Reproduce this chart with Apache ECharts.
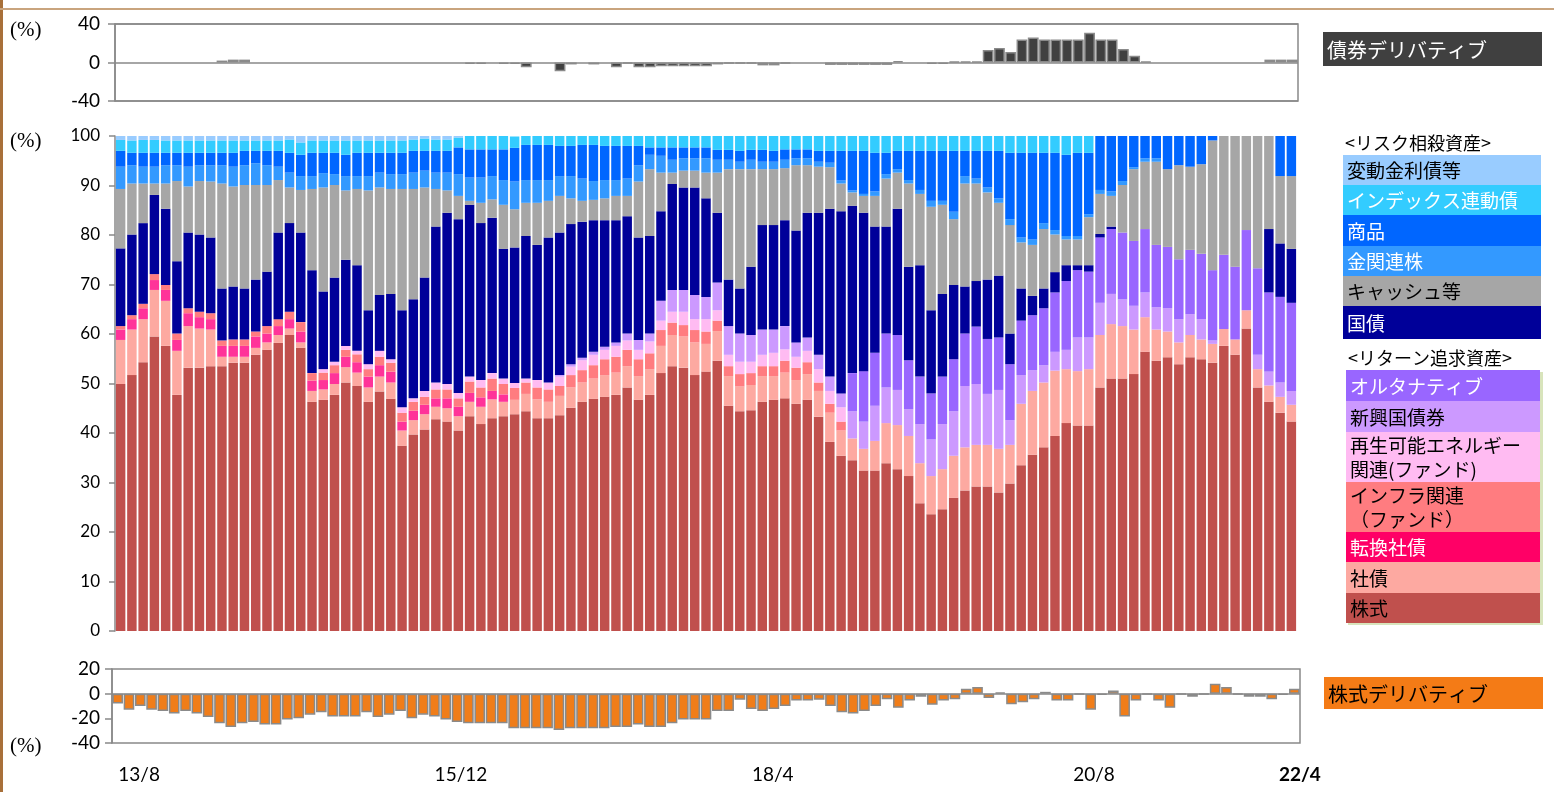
<!DOCTYPE html>
<html>
<head>
<meta charset="utf-8">
<script src="https://cdn.jsdelivr.net/npm/echarts@6/dist/echarts.min.js"></script>
<style>
  html, body { margin: 0; padding: 0; background: #fff; }
  #chart { width: 1554px; height: 792px; }
</style>
</head>
<body>
<div id="chart"></div>
<script>
// months 2013/8 .. 2022/4
const categories = [];
for (let i = 0; i < 105; i++) {
  categories.push((2013 + Math.floor((7 + i) / 12)) + '/' + ((7 + i) % 12 + 1));
}
const tickIndex = [0, 28, 56, 84, 104];
const tickLabels = ['13/8', '15/12', '18/4', '20/8', '22/4'];

// stacked allocation (%), bottom to top
const equity = [49.9,51.7,54.3,59.5,57.6,47.7,53.2,53.2,53.5,53.5, 54.2,54.2,55.8,56.8,58.2,59.8,57.2,46.3,46.7,47.7,
  50.2,49.5,46.3,48.4,46.9,37.4,39.7,40.7,42.8,42.3, 40.5,43.4,41.8,43.0,43.4,43.8,44.4,43.0,43.0,43.6,
  45.1,46.3,46.9,47.3,47.7,49.2,46.7,47.7,52.1,53.5, 53.2,51.7,52.4,54.6,45.5,44.4,44.6,46.3,46.7,47.0,
  45.9,46.7,43.3,38.2,35.4,34.5,32.4,32.4,33.9,32.7, 31.3,25.8,23.6,24.6,26.9,28.4,29.2,29.2,28.0,29.8,
  33.5,35.6,37.1,39.4,42.0,41.5,41.5,49.2,51.0,51.0, 51.9,56.4,54.6,55.3,53.9,55.3,54.9,54.2,57.6,55.8,
  61.1,49.2,46.3,44.1,42.3];
const corpBond = [8.9,9.2,8.7,9.4,9.1,8.9,8.4,7.9,7.4,1.9, 1.2,1.2,1.4,1.5,1.6,1.3,1.1,2.2,2.1,2.2,
  3.1,2.7,2.9,3.0,3.3,3.1,2.9,3.1,2.5,2.7, 2.9,2.9,3.5,3.8,2.9,2.9,3.5,3.8,3.3,3.9,
  4.1,3.9,4.1,4.4,4.5,4.3,4.8,5.2,5.5,6.3, 6.3,6.6,5.6,6.0,6.0,5.0,5.1,5.2,4.8,5.2,
  4.8,5.2,5.2,5.9,5.1,4.4,4.4,6.0,8.1,8.9, 8.1,8.1,7.7,8.1,8.5,8.7,8.4,8.4,8.8,7.8,
  12.4,12.9,13.1,13.2,10.9,11.0,11.4,10.6,11.0,10.6, 9.0,7.0,6.3,5.2,4.4,4.5,4.0,3.8,3.4,3.1,
  3.7,3.7,3.3,3.2,3.4];
const convBond = [2.1,2.1,2.2,2.0,2.2,2.2,2.6,2.3,2.1,2.2, 2.2,2.2,2.3,1.8,1.8,1.9,2.2,2.1,1.9,2.2,
  2.1,2.1,2.2,2.3,2.2,1.8,1.9,1.9,1.7,2.0, 1.9,1.8,1.9,1.7,1.5,0,0,0,0,0,
  0,0,0,0,0,0,0,0,0,0, 0,0,0,0,0,0,0,0,0,0, 0,0,0,0,0,0,0,0,0,0, 0,0,0,0,0,0,0,0,0,0,
  0,0,0,0,0,0,0,0,0,0, 0,0,0,0,0,0,0,0,0,0, 0,0,0,0,0];
const infra = [0.7,0.8,0.9,1.2,1.0,1.3,1.0,1.1,1.2,1.1, 1.3,1.3,1.0,1.5,1.4,1.5,1.9,1.5,1.5,1.6,
  1.4,1.6,1.5,1.7,1.8,1.8,1.8,1.6,1.8,1.8, 1.7,2.3,2.0,2.5,2.1,2.4,2.3,2.4,2.5,2.0,
  2.5,2.5,2.7,3.2,3.2,3.3,3.4,3.2,3.2,2.5, 2.3,2.5,2.5,2.1,2.0,2.5,2.4,2.0,2.0,2.4,
  2.5,2.4,1.7,1.8,1.8,0,0,0,0,0, 0,0,0,0,0,0,0,0,0,0,
  0,0,0,0,0,0,0,0,0,0, 0,0,0,0,0,0,0,0,0,0, 0,0,0,0,0];
const renewable = [0,0,0,0,0,0,0,0,0,0, 0,0,0,0,0,0,0,0,0.7,0.7,
  0.8,0.7,1.0,1.2,0.7,1.1,0.7,1.2,1.4,1.1, 1.1,1.0,1.5,1.1,1.1,1.0,0.8,1.5,1.4,1.9,
  1.7,2.0,2.1,1.9,2.2,1.9,1.9,2.4,1.9,2.2, 2.7,2.2,2.5,2.1,2.3,2.5,2.3,2.3,2.7,2.3,
  2.2,2.3,2.7,2.6,2.9,0,0,0,0,0, 0,0,0,0,0,0,0,0,0,0,
  0,0,0,0,0,0,0,0,0,0, 0,0,0,0,0,0,0,0,0,0, 0,0,0,0,0];
const emBond = [0,0,0,0,0,0,0,0,0,0, 0,0,0,0,0,0,0,0,0,0, 0,0,0,0,0,0,0,0,0,0, 0,0,0,0,0,0,0,0,0,0.3,
  0.5,0.5,0.6,0.6,0.7,1.4,2.0,1.6,4.0,4.4, 4.4,4.9,4.5,5.6,5.8,5.7,5.4,5.1,4.7,4.7,
  2.9,2.7,2.9,2.9,2.8,5.5,5.5,7.1,7.2,7.1, 5.4,7.9,7.4,9.1,9.0,12.4,12.3,10.3,11.9,5.0,
  5.8,4.2,3.5,3.8,3.9,6.8,6.4,6.5,6.1,5.4, 4.8,5.0,4.5,4.7,4.7,4.2,4.1,0.7,0,0,
  0,2.9,2.8,2.9,2.8];
const alternative = [0,0,0,0,0,0,0,0,0,0, 0,0,0,0,0,0,0,0,0,0, 0,0,0,0,0,0,0,0,0,0, 0,0,0,0,0,0,0,0,0,0,
  0,0,0,0,0,0,0,0,0,0, 0,0,0,0,0,0,0,0,0,0, 0,0,0,0,0,7.7,10.2,10.7,10.9,11.1,
  9.9,9.6,9.3,9.6,10.5,10.6,11.6,11.1,10.6,11.3, 11.0,11.1,11.5,12.0,13.9,13.6,13.3,13.2,13.1,13.5,
  13.1,12.8,12.6,12.4,12.1,13.0,13.2,14.2,15.0,14.7, 16.2,17.5,16.0,17.3,17.8];
const govBond = [15.7,16.3,16.3,16.0,15.4,14.6,15.3,15.6,15.3,10.5, 10.7,10.3,10.5,11.0,17.5,17.9,18.1,20.8,15.7,17.0,
  17.4,17.3,10.9,11.3,13.2,19.6,20.0,22.9,31.5,34.6, 35.1,34.7,31.7,31.4,26.2,27.4,28.8,27.3,29.3,28.8,
  28.3,27.5,26.6,25.6,24.7,23.7,20.7,19.7,18.1,21.4, 20.7,21.7,19.9,14.1,9.4,9.1,13.8,21.1,21.1,21.4,
  22.6,25.2,28.7,33.9,36.8,33.8,32.0,25.5,21.6,25.5, 18.9,22.5,16.8,16.7,15.0,9.5,9.2,12.0,12.5,6.2,
  6.5,3.9,4.0,4.1,3.2,1.0,1.3,0.7,0.5,0, 0,0,0,0,0,0,0,0,0,0, 0,0,12.8,10.8,10.9];
const cash = [12.0,10.3,8.0,2.3,5.1,16.2,9.3,10.8,11.3,21.2, 20.2,20.9,19.1,17.5,10.6,7.2,8.6,16.4,21.0,18.7,
  14.0,15.4,24.2,21.7,21.2,24.5,22.3,18.2,7.6,4.5, 4.7,0.8,4.1,3.7,8.9,7.7,6.7,8.5,7.4,7.4,
  5.2,4.2,4.1,4.4,4.9,4.1,11.3,13.5,7.8,2.3, 3.4,3.4,5.2,8.1,22.3,24.1,19.7,11.3,11.3,10.5,
  13.2,9.6,9.3,8.4,5.6,2.7,3.4,6.2,9.7,7.3, 16.8,14.4,20.9,18.0,13.3,20.8,19.7,17.6,14.7,21.9,
  9.3,10.3,12.0,7.6,5.2,5.2,9.7,8.1,6.2,9.6, 14.5,13.6,16.8,15.7,19.0,16.8,18.1,26.2,24.0,26.4,
  19.0,26.7,18.8,13.6,14.7];
const goldStock = [4.5,3.7,3.4,3.4,3.7,3.2,4.0,3.2,3.3,3.7, 4.0,4.0,4.4,4.0,2.7,3.0,2.8,2.6,2.9,2.2,
  2.9,2.6,2.9,3.0,3.0,3.0,3.3,3.4,3.3,3.6, 4.4,4.7,5.1,4.7,5.0,5.6,4.6,4.6,4.2,4.0,
  4.5,4.5,3.8,3.7,3.2,3.5,3.3,2.9,3.4,2.6, 2.5,2.5,2.9,2.6,1.9,1.5,1.9,1.5,1.5,1.7,
  1.4,1.4,1.0,0.9,0.6,0.4,0.4,0.9,0.9,0.7, 0.7,0.8,1.2,0.8,1.5,1.5,1.0,1.0,0.9,1.2,
  1.0,1.1,1.2,0.9,0.7,0.7,0.6,0.8,0.9,0.8, 0.4,0.7,0.7,0,0,0,0,0,0,0, 0,0,0,0,0];
const commodity = [3.2,2.5,2.8,2.8,2.5,2.5,2.8,2.5,2.5,2.5, 2.8,2.9,2.5,2.9,3.2,4.0,4.3,4.7,4.1,4.3,
  4.3,4.7,4.7,4.0,4.3,4.3,4.4,4.0,4.4,4.4, 5.4,5.7,5.7,5.4,6.2,6.8,7.1,7.1,7.1,6.1,
  6.1,6.8,7.3,6.9,6.9,6.6,3.9,1.5,1.7,2.5, 2.2,2.2,2.2,2.0,2.0,2.2,2.0,2.4,2.2,2.1,
  1.8,1.8,2.2,2.4,6.0,8.0,8.7,7.8,4.3,3.7, 5.9,7.9,10.1,10.1,12.3,5.1,5.6,7.4,9.6,13.4,
  17.1,17.5,14.2,15.6,16.4,16.8,12.4,10.9,11.2,9.1, 6.3,4.5,4.5,6.7,5.9,6.2,5.7,0.9,0,0,
  0,0,0,8.1,8.1];
const indexLinked = [2.2,2.5,2.6,2.6,2.5,2.5,2.5,2.5,2.5,2.5, 2.5,2.1,2.1,2.1,2.1,2.7,2.5,2.5,2.5,2.5,
  2.9,2.5,2.5,2.5,2.5,2.5,2.3,2.5,2.3,2.3, 2.0,2.7,2.7,2.7,2.7,2.3,1.8,1.8,1.8,2.0,
  2.0,1.8,1.8,2.0,2.0,2.0,2.0,2.3,2.3,2.3, 2.3,2.3,2.3,2.8,2.8,3.0,2.8,2.8,3.0,2.7,
  2.7,2.7,3.0,3.0,3.0,3.0,3.0,3.4,3.4,3.0, 3.0,3.0,3.0,3.0,3.0,3.0,3.0,3.0,3.0,3.4,
  3.4,3.4,3.4,3.4,3.8,3.4,3.4,0,0,0, 0,0,0,0,0,0,0,0,0,0, 0,0,0,0,0];
const floatingRate = [0.8,0.9,0.8,0.8,0.9,0.9,0.9,0.9,0.9,0.9, 0.9,0.9,0.9,0.9,0.9,0.7,1.3,0.9,0.9,0.9,
  0.9,0.9,0.9,0.9,0.9,0.9,0.7,0.5,0.7,0.7, 0.3,0,0,0,0,0,0,0,0,0,
  0,0,0,0,0,0,0,0,0,0, 0,0,0,0,0,0,0,0,0,0, 0,0,0,0,0,0,0,0,0,0, 0,0,0,0,0,0,0,0,0,0,
  0,0,0,0,0,0,0,0,0,0, 0,0,0,0,0,0,0,0,0,0, 0,0,0,0,0];

// derivatives (%)
const bondDeriv = [null,null,null,null,null,null,null,null,null,2, 3,3,null,null,null,null,null,null,null,null,
  null,null,null,null,null,null,null,null,null,null, null,-1.5,-1.5,null,-1.5,-1.5,-5,null,null,-9,
  -2,null,-2,null,-5,-1,-5,-5,-4,-4, -4,-4,-4,-2,-1,-1,-1,-3,-3,-1,
  null,null,null,-2.5,-2.5,-2.5,-2.5,-2.5,-2.5,1.5, null,null,-1.5,-1.5,1,1,1,13,15,11,
  24,26,24,24,24,24,31,24,24,14, 7,1,null,null,null,null,null,null,null,null,
  null,null,3,3,3];
const equityDeriv = [-8,-13,-10,-13,-14,-16,-14,-16,-19,-24, -27,-24,-23,-25,-25,-21,-20,-17,-15,-18.5,
  -18.5,-18.5,-15,-19,-17,-14,-20,-17,-18.5,-21, -23,-24,-24,-24,-24,-28,-28,-28,-28,-29.5,
  -28,-28,-28,-28,-27,-27,-25,-27,-27,-24, -21,-21,-21,-14,-14,-5,-12.5,-14,-12.5,-10,
  -5.5,-5.5,-5,-10,-15,-16,-14,-10,-4.5,-11.5, -5.5,-2.5,-9,-5.5,-4.5,4,5.5,-3.5,1,-8.5,
  -7,-4.5,1.5,-5.5,-5.5,-0.5,-13,-1,2.5,-18.5, -5.5,-0.5,-5.5,-11.5,-0.5,-2.5,-0.5,8,5.5,-0.5,
  -2.5,-2.5,-4.5,-1,4];

const stackDefs = [
  ['株式', equity, '#C0504D'],
  ['社債', corpBond, '#FDA9A1'],
  ['転換社債', convBond, '#FF3399'],
  ['インフラ関連(ファンド)', infra, '#FF7C80'],
  ['再生可能エネルギー関連(ファンド)', renewable, '#FFBBF2'],
  ['新興国債券', emBond, '#CC99FF'],
  ['オルタナティブ', alternative, '#9966FF'],
  ['国債', govBond, '#000099'],
  ['キャッシュ等', cash, '#A6A6A6'],
  ['金関連株', goldStock, '#3399FF'],
  ['商品', commodity, '#0066FF'],
  ['インデックス連動債', indexLinked, '#33CCFF'],
  ['変動金利債等', floatingRate, '#99CCFF']
];

const riskLegend = [
  ['変動金利債等', '#99CCFF', '#000'],
  ['インデックス連動債', '#33CCFF', '#fff'],
  ['商品', '#0066FF', '#fff'],
  ['金関連株', '#3399FF', '#fff'],
  ['キャッシュ等', '#A6A6A6', '#000'],
  ['国債', '#000099', '#fff']
];
const returnLegend = [
  ['オルタナティブ', '#9966FF', '#fff'],
  ['新興国債券', '#CC99FF', '#000'],
  ['再生可能エネルギー\n関連(ファンド)', '#FFBBF2', '#000'],
  ['インフラ関連\n（ファンド）', '#FF7C80', '#000'],
  ['転換社債', '#FF0066', '#fff'],
  ['社債', '#FDA9A1', '#000'],
  ['株式', '#C0504D', '#000']
];
// row edges (px) of the two legend blocks
const riskRows = [155, 185, 215, 246, 276, 306, 339];
const returnRows = [370, 401, 432, 482, 532, 562, 593, 623];

const NUM_FONT = 'Lato, "Liberation Sans", sans-serif';
const JP_FONT = '"Noto Sans CJK JP", sans-serif';
const FRAME = '#898989';

const graphics = [];
// page border
graphics.push({ type: 'rect', shape: { x: 0, y: 0, width: 3, height: 792 }, style: { fill: '#A8703A' }, z: 100 });
graphics.push({ type: 'rect', shape: { x: 0, y: 8, width: 1554, height: 2 }, style: { fill: '#C9A47E' }, z: 100 });

function pct(y) {
  graphics.push({ type: 'text', x: 10, y: y, style: { text: '(%)', fontSize: 21, fontFamily: '"Liberation Serif", serif', fill: '#000', verticalAlign: 'middle' } });
}
pct(30); pct(141); pct(746);

function legendBlock(items, rows, x, w) {
  items.forEach((it, i) => {
    const y0 = rows[i], h = rows[i + 1] - rows[i];
    graphics.push({ type: 'rect', shape: { x: x, y: y0, width: w, height: h }, style: { fill: it[1] } });
    graphics.push({ type: 'text', x: x + 4, y: y0 + h / 2 + 1, style: { text: it[0], fill: it[2], fontSize: 19, lineHeight: 24, fontFamily: JP_FONT, verticalAlign: 'middle' } });
  });
}
graphics.push({ type: 'rect', shape: { x: 1348, y: 372, width: 195, height: 253 }, style: { fill: '#D8E4BC' } });
legendBlock(riskLegend, riskRows, 1343, 198);
legendBlock(returnLegend, returnRows, 1346, 194);
graphics.push({ type: 'text', x: 1345, y: 143, style: { text: '<リスク相殺資産>', fontSize: 18, fontFamily: JP_FONT, fill: '#000', verticalAlign: 'middle' } });
graphics.push({ type: 'text', x: 1348, y: 358, style: { text: '<リターン追求資産>', fontSize: 18, fontFamily: JP_FONT, fill: '#000', verticalAlign: 'middle' } });

graphics.push({ type: 'rect', shape: { x: 1323, y: 32, width: 219, height: 34 }, style: { fill: '#404040' } });
graphics.push({ type: 'text', x: 1327, y: 50, style: { text: '債券デリバティブ', fontSize: 20, fontFamily: JP_FONT, fill: '#fff', verticalAlign: 'middle' } });
graphics.push({ type: 'rect', shape: { x: 1324, y: 677, width: 219, height: 32 }, style: { fill: '#F47B16' } });
graphics.push({ type: 'text', x: 1328, y: 694, style: { text: '株式デリバティブ', fontSize: 20, fontFamily: JP_FONT, fill: '#000', verticalAlign: 'middle' } });

const tickRich = {};
const tickPad = [43, 53, 43, 52, 11];
tickLabels.forEach((t, k) => {
  tickRich['t' + k] = { fontSize: 19, fontFamily: NUM_FONT, color: '#000', fontWeight: k === 4 ? 'bold' : 'normal', padding: [0, 0, 0, tickPad[k]] };
});

const series = stackDefs.map(([name, data, color]) => ({
  name, type: 'bar', stack: 'total', xAxisIndex: 1, yAxisIndex: 1, data,
  barCategoryGap: '16%', itemStyle: { color }, emphasis: { disabled: true }
}));
series.push({
  name: '債券デリバティブ', type: 'bar', xAxisIndex: 0, yAxisIndex: 0, data: bondDeriv,
  barCategoryGap: '4%', itemStyle: { color: '#404040', borderColor: '#8A8A8A', borderWidth: 1.5 },
  emphasis: { disabled: true }
});
series.push({
  name: '株式デリバティブ', type: 'bar', xAxisIndex: 2, yAxisIndex: 2, data: equityDeriv,
  barCategoryGap: '6%', itemStyle: { color: '#F07D19', borderColor: '#8A8A8A', borderWidth: 1.5 },
  emphasis: { disabled: true },
  markLine: { silent: true, symbol: 'none', label: { show: false }, data: [{ yAxis: 0 }],
    lineStyle: { color: FRAME, type: 'solid', width: 1.5 }, animation: false }
});

const chart = echarts.init(document.getElementById('chart'));
chart.setOption({
  animation: false,
  backgroundColor: '#fff',
  grid: [
    { left: 115, top: 24, width: 1183, height: 77, show: true, borderColor: FRAME, borderWidth: 1.5, outerBoundsMode: 'none' },
    { left: 115, top: 136, width: 1182, height: 495, outerBoundsMode: 'none' },
    { left: 112, top: 669, width: 1188, height: 74, show: true, borderColor: FRAME, borderWidth: 1.5, outerBoundsMode: 'none' }
  ],
  xAxis: [
    { type: 'category', gridIndex: 0, data: categories, show: false },
    { type: 'category', gridIndex: 1, data: categories, show: false },
    {
      type: 'category', gridIndex: 2, data: categories, position: 'bottom',
      axisLine: { show: false, onZero: false }, axisTick: { show: false },
      axisLabel: {
        interval: (index) => tickIndex.indexOf(index) >= 0,
        formatter: (value, index) => {
          const k = tickIndex.indexOf(index);
          return k < 0 ? '' : '{t' + k + '|' + tickLabels[k] + '}';
        },
        rich: tickRich, margin: 22, align: 'center', fontSize: 19, fontFamily: NUM_FONT, color: '#000'
      }
    }
  ],
  yAxis: [
    {
      type: 'value', gridIndex: 0, min: -40, max: 40, interval: 40,
      axisLine: { show: true, lineStyle: { color: FRAME, width: 1.5 } },
      axisTick: { show: true, length: 7, lineStyle: { color: FRAME, width: 1.5 } },
      axisLabel: { fontSize: 19, fontFamily: NUM_FONT, color: '#000', margin: 15 },
      splitLine: { show: true, lineStyle: { color: FRAME, width: 1.5 } }
    },
    {
      type: 'value', gridIndex: 1, min: 0, max: 100, interval: 10,
      axisLine: { show: true, lineStyle: { color: FRAME, width: 1.5 } },
      axisTick: { show: true, length: 6, lineStyle: { color: FRAME, width: 1.5 } },
      axisLabel: { fontSize: 17, fontFamily: NUM_FONT, color: '#000', margin: 15 },
      splitLine: { show: false }
    },
    {
      type: 'value', gridIndex: 2, min: -40, max: 20, interval: 20,
      axisLine: { show: true, lineStyle: { color: FRAME, width: 1.5 } },
      axisTick: { show: true, length: 7, lineStyle: { color: FRAME, width: 1.5 } },
      axisLabel: { fontSize: 19, fontFamily: NUM_FONT, color: '#000', margin: 12 },
      splitLine: { show: false }
    }
  ],
  graphic: graphics,
  series
});
</script>
</body>
</html>
